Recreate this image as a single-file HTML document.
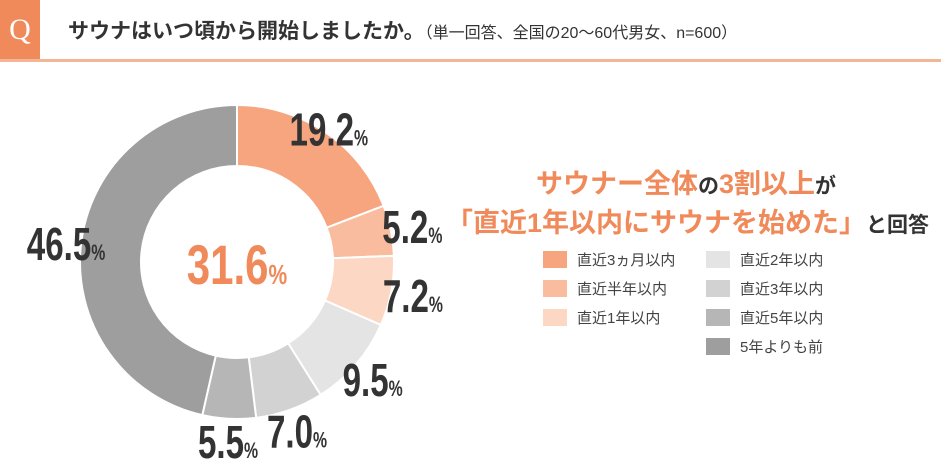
<!DOCTYPE html>
<html><head><meta charset="utf-8"><style>
body{margin:0;width:941px;height:464px;background:#fff;overflow:hidden;font-family:"Liberation Sans","Noto Sans CJK JP",sans-serif;}
.abs{position:absolute}
</style></head><body>
<div class="abs" style="left:0;top:0;width:40px;height:60px;background:#f08a5a;color:#fff;font-family:'Liberation Serif',serif;font-size:30px;line-height:60px;text-align:center;">Q</div>
<div class="abs" style="left:0;top:59px;width:941px;height:3px;background:#f3b594;"></div>
<div class="abs" style="left:68px;top:15px;font-size:21px;font-weight:bold;color:#333;white-space:nowrap;">サウナはいつ頃から開始しましたか。<span style="font-weight:normal;font-size:16px;">（単一回答、全国の20〜60代男女、n=600）</span></div>
<svg class="abs" style="left:0;top:0" width="941" height="464">
<g id="slices"></g>
<g id="labels"></g>
<text x="237" y="284" text-anchor="middle" fill="#f08a5a" font-size="56" font-weight="bold" transform="translate(237,0) scale(0.75,1) translate(-237,0)">31.6<tspan font-size="28">%</tspan></text>
</svg>
<div class="abs" style="left:446px;top:166px;width:480px;text-align:center;font-size:27px;font-weight:bold;color:#f08a5a;line-height:37px;white-space:nowrap;">サウナー全体<span style="color:#333;font-size:21px">の</span>3割以上<span style="color:#333;font-size:21px">が</span><br>「直近1年以内にサウナを始めた」<span style="color:#333;font-size:21px">と回答</span></div>
<div id="legend"></div>
<script>
const categories=["直近3ヵ月以内","直近半年以内","直近1年以内","直近2年以内","直近3年以内","直近5年以内","5年よりも前"];
const values=[19.2,5.2,7.2,9.5,7.0,5.5,46.5];
const colors=["#f7a57f","#f9bc9e","#fbd7c4","#e4e4e4","#d2d2d2","#b6b6b6","#9e9e9e"];
const cx=237,cy=262,R=157,r=96;
const NS="http://www.w3.org/2000/svg";
const total=values.reduce((a,b)=>a+b,0);
const gS=document.getElementById('slices'),gL=document.getElementById('labels');
function pt(a,rad){return [cx+rad*Math.sin(a),cy-rad*Math.cos(a)];}
let acc=0;
values.forEach((v,i)=>{
 const a0=acc/total*2*Math.PI;acc+=v;const a1=acc/total*2*Math.PI;
 const large=(a1-a0)>Math.PI?1:0;
 const p0=pt(a0,R),p1=pt(a1,R),q1=pt(a1,r),q0=pt(a0,r);
 const p=document.createElementNS(NS,'path');
 p.setAttribute('d',`M${p0}A${R},${R} 0 ${large} 1 ${p1}L${q1}A${r},${r} 0 ${large} 0 ${q0}Z`);
 p.setAttribute('fill',colors[i]);p.setAttribute('stroke','#fff');p.setAttribute('stroke-width','2');
 
 
 gS.appendChild(p);
 const am=(a0+a1)/2;
 const lr=v>40?R+15:(v>15?R+5:R+22);
 const [lx,ly]=pt(am,lr);
 const t=document.createElementNS(NS,'text');
 t.setAttribute('x',0);t.setAttribute('y',0);
 t.setAttribute('transform',`translate(${lx},${ly+17}) scale(0.72,1)`);
 t.setAttribute('text-anchor','middle');t.setAttribute('fill','#333');
 t.setAttribute('font-size','46');t.setAttribute('font-weight','bold');
 t.innerHTML=v.toFixed(1)+'<tspan font-size="22">%</tspan>';
 
 
 gL.appendChild(t);
});
const lg=document.getElementById('legend');
categories.forEach((c,i)=>{
 const col=i<3?0:1,row=i<3?i:i-3;
 const d=document.createElement('div');
 d.className='abs';
 d.style.cssText=`left:${col?706:543}px;top:${249+row*29}px;font-size:15px;color:#444;white-space:nowrap;display:flex;align-items:center;`;
 d.innerHTML=`<span style="display:inline-block;width:24px;height:17px;background:${colors[i]};margin-right:10px"></span>${c}`;
 
 
 lg.appendChild(d);
});
</script>
</body></html>
